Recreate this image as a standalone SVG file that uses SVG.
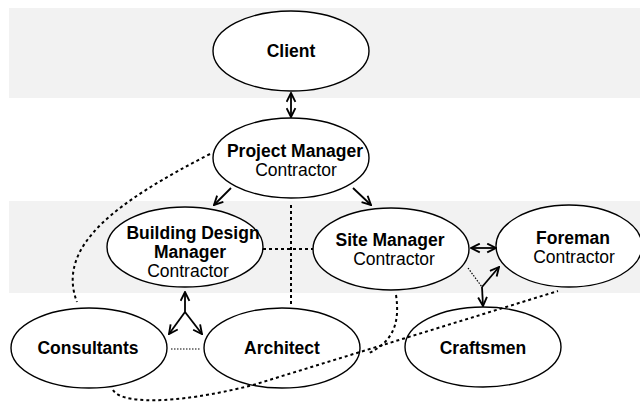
<svg xmlns="http://www.w3.org/2000/svg" width="640" height="403" viewBox="0 0 640 403">
<defs>
<style>
.band{fill:#f2f2f2}
.node ellipse{fill:#fff;stroke:#000;stroke-width:1.4}
text{font-family:"Liberation Sans",Arial,sans-serif;font-size:17.5px;text-anchor:middle;fill:#000}
.b{font-weight:bold}
.arrow{fill:none;stroke:#000;stroke-width:1.8}
.dash{fill:none;stroke:#000;stroke-width:2;stroke-dasharray:3,3}
.dot{fill:none;stroke:#000;stroke-width:1.2;stroke-dasharray:1.5,1.5}
</style>
<marker id="ah" viewBox="0 0 10 10" refX="9" refY="5" markerWidth="11" markerHeight="11" markerUnits="userSpaceOnUse" orient="auto-start-reverse">
<path d="M1,1 L9,5 L1,9" fill="none" stroke="#000" stroke-width="1.7"/>
</marker>
</defs>
<rect class="band" x="9" y="8" width="631" height="90"/>
<rect class="band" x="9" y="201" width="631" height="92"/>

<g id="client" class="node">
<ellipse cx="291" cy="51" rx="78" ry="40"/>
<text class="b" x="291" y="57">Client</text>
</g>
<g id="project-manager" class="node">
<ellipse cx="291" cy="158" rx="78" ry="40"/>
<text class="b" x="295" y="157">Project Manager</text>
<text x="296" y="176">Contractor</text>
</g>
<g id="building-design-manager" class="node">
<ellipse cx="185" cy="247" rx="78" ry="40"/>
<text class="b" x="193" y="239">Building Design</text>
<text class="b" x="190" y="258">Manager</text>
<text x="188" y="277">Contractor</text>
</g>
<g id="site-manager" class="node">
<ellipse cx="391" cy="249" rx="78" ry="41"/>
<text class="b" x="390" y="246">Site Manager</text>
<text x="394" y="265">Contractor</text>
</g>
<g id="foreman" class="node">
<ellipse cx="569" cy="246" rx="73" ry="41"/>
<text class="b" x="573" y="244">Foreman</text>
<text x="574" y="263">Contractor</text>
</g>
<g id="consultants" class="node">
<ellipse cx="89" cy="348" rx="78" ry="40"/>
<text class="b" x="88" y="354">Consultants</text>
</g>
<g id="architect" class="node">
<ellipse cx="282" cy="348" rx="78" ry="40"/>
<text class="b" x="282" y="354">Architect</text>
</g>
<g id="craftsmen" class="node">
<ellipse cx="483" cy="347" rx="78" ry="40"/>
<text class="b" x="483" y="354">Craftsmen</text>
</g>

<g id="connectors">
<path class="dash" d="M210 154 C120 200 55 245 77 302"/>
<path class="dash" d="M263 249 L313 249"/>
<path class="dash" d="M291 205 L291 304"/>
<path class="dash" d="M396 295 C400 322 394 342 367 354"/>
<path class="dash" d="M113 390 C120 403 170 406 253 385 L558 291"/>
<path class="dot" d="M171 349 L200 349"/>
<path class="dot" d="M468 268 L482 287"/>
<path class="arrow" d="M291 93 L291 117" marker-start="url(#ah)" marker-end="url(#ah)"/>
<path class="arrow" d="M231 188 L214 205" marker-end="url(#ah)"/>
<path class="arrow" d="M353 188 L371 205" marker-end="url(#ah)"/>
<path class="arrow" d="M185 312 L185 292" marker-end="url(#ah)"/>
<path class="arrow" d="M185 312 L169 334" marker-end="url(#ah)"/>
<path class="arrow" d="M185 312 L202 334" marker-end="url(#ah)"/>
<path class="arrow" d="M471 248 L496 248" marker-start="url(#ah)" marker-end="url(#ah)"/>
<path class="arrow" d="M482 287 L499 267" marker-end="url(#ah)"/>
<path class="arrow" d="M482 287 L483 306" marker-end="url(#ah)"/>
</g>
</svg>
